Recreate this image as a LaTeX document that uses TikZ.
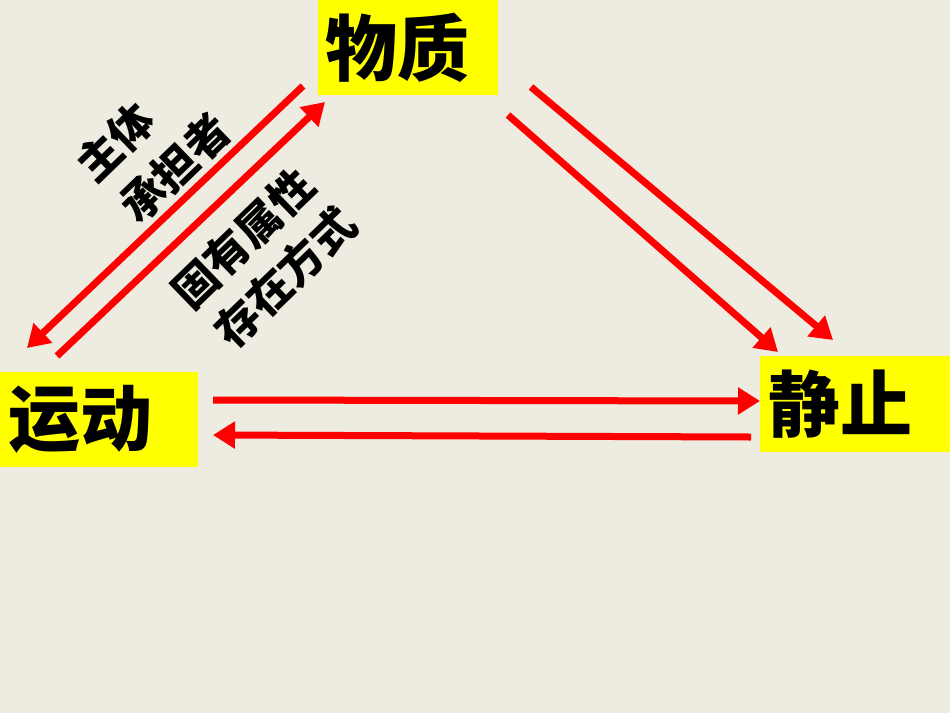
\documentclass[tikz,border=0pt]{standalone}
\usepackage{fontspec}
\newfontfamily\cjk{Noto Sans CJK SC}
\usetikzlibrary{arrows.meta}
\definecolor{bg}{RGB}{238,235,224}
\definecolor{ylw}{RGB}{255,255,0}
\definecolor{rd}{RGB}{255,0,0}
\begin{document}
\begin{tikzpicture}[x=1pt,y=-1pt,
  box/.style={fill=ylw,inner sep=0pt,font=\cjk\bfseries\fontsize{72}{72}\selectfont},
  arr/.style={draw=rd,line width=7pt,-{Triangle[length=22pt,width=26pt]}},
  lbl/.style={rotate=44,inner sep=0pt,font=\cjk\bfseries\fontsize{44}{44}\selectfont}]
\useasboundingbox[fill=bg] (0,0) rectangle (950,713);
\node[box,minimum width=180pt,minimum height=95pt] (wz) at (408,47.5) {物质\rule{22pt}{0pt}};
\node[box,minimum width=198pt,minimum height=95pt] (yd) at (99,419.5) {运动\rule{36pt}{0pt}};
\node[box,minimum width=190pt,minimum height=96pt] (jz) at (855,404) {静止\rule{30pt}{0pt}};
% connector end points
\coordinate (a1) at (303,86);
\coordinate (a2) at (27,348);
\coordinate (b1) at (57,356);
\coordinate (b2) at (325,102);
\coordinate (c1) at (531,87);
\coordinate (c2) at (833,340);
\coordinate (d1) at (508,115);
\coordinate (d2) at (778,352);
\coordinate (e1) at (213,400);
\coordinate (e2) at (760,401);
\coordinate (f1) at (751,437);
\coordinate (f2) at (213,435);
\draw[arr] (a1) -- (a2);
\draw[arr] (b1) -- (b2);
\draw[arr] (c1) -- (c2);
\draw[arr] (d1) -- (d2);
\draw[arr] (e1) -- (e2);
\draw[arr] (f1) -- (f2);
\node[lbl] (t1) at (115,142) {主体};
\node[lbl] (t2) at (175,168) {承担者};
\node[lbl] (t3) at (243,238) {固有属性};
\node[lbl] (t4) at (285,277) {存在方式};
\end{tikzpicture}
\end{document}
